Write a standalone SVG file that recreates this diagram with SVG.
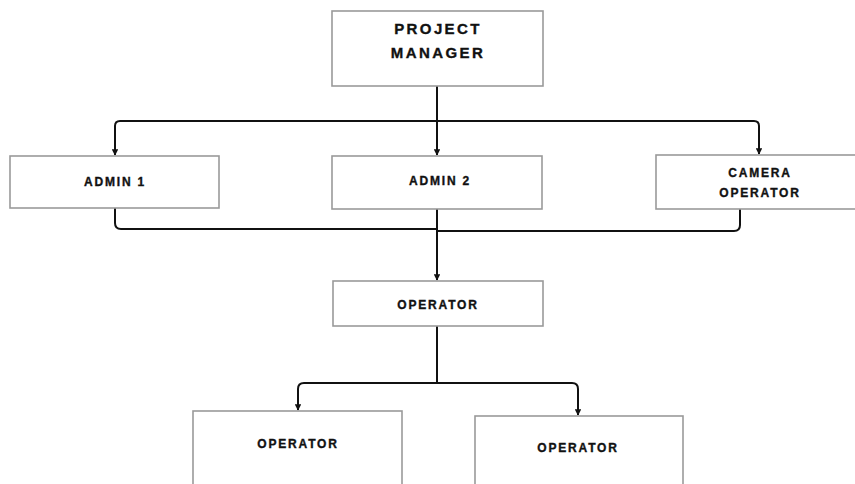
<svg xmlns="http://www.w3.org/2000/svg" width="855" height="484" viewBox="0 0 855 484">
<defs>
<style>
.box{fill:#fff;stroke:#9a9a9a;stroke-width:1.6}
.t{font-family:"Liberation Sans",Arial,sans-serif;font-weight:bold;fill:#111;stroke:#111;stroke-width:0.35;text-anchor:middle}
.big{font-size:15px;letter-spacing:2.4px}
.sm{font-size:12px;letter-spacing:1.8px}
.ln{fill:none;stroke:#111;stroke-width:2}
</style>
<marker id="ah" viewBox="0 0 10 10" refX="9" refY="5" markerWidth="3.2" markerHeight="3.2" orient="auto">
<path d="M0,0 L10,5 L0,10 z" fill="#111"/>
</marker>
</defs>
<rect width="855" height="484" fill="#fff"/>
<g id="connectors">
<path class="ln" d="M437,86 V155" marker-end="url(#ah)"/>
<path class="ln" d="M437,121 H120 Q115,121 115,126 V155" marker-end="url(#ah)"/>
<path class="ln" d="M437,121 H754 Q759,121 759,126 V154" marker-end="url(#ah)"/>
<path class="ln" d="M115,208 V223 Q115,229 121,229 H437"/>
<path class="ln" d="M740,209 V225 Q740,231 734,231 H437"/>
<path class="ln" d="M437,209 V280" marker-end="url(#ah)"/>
<path class="ln" d="M437,326 V383"/>
<path class="ln" d="M437,383 H304 Q298,383 298,389 V410" marker-end="url(#ah)"/>
<path class="ln" d="M437,383 H572 Q578,383 578,389 V415" marker-end="url(#ah)"/>
</g>
<g id="project-manager">
<rect class="box" x="332" y="11" width="211" height="75"/>
<text class="t big" x="438" y="34">PROJECT</text>
<text class="t big" x="438" y="58">MANAGER</text>
</g>
<g id="admin-1">
<rect class="box" x="10" y="156" width="209" height="52"/>
<text class="t sm" x="115" y="186">ADMIN 1</text>
</g>
<g id="admin-2">
<rect class="box" x="332" y="156" width="210" height="53"/>
<text class="t sm" x="440" y="185">ADMIN 2</text>
</g>
<g id="camera-operator">
<rect class="box" x="656" y="155" width="205" height="54"/>
<text class="t sm" x="760" y="177">CAMERA</text>
<text class="t sm" x="760" y="197">OPERATOR</text>
</g>
<g id="operator-main">
<rect class="box" x="333" y="281" width="210" height="45"/>
<text class="t sm" x="438" y="309">OPERATOR</text>
</g>
<g id="operator-left">
<rect class="box" x="193" y="411" width="209" height="80"/>
<text class="t sm" x="298" y="448">OPERATOR</text>
</g>
<g id="operator-right">
<rect class="box" x="475" y="416" width="208" height="80"/>
<text class="t sm" x="578" y="452">OPERATOR</text>
</g>
</svg>
